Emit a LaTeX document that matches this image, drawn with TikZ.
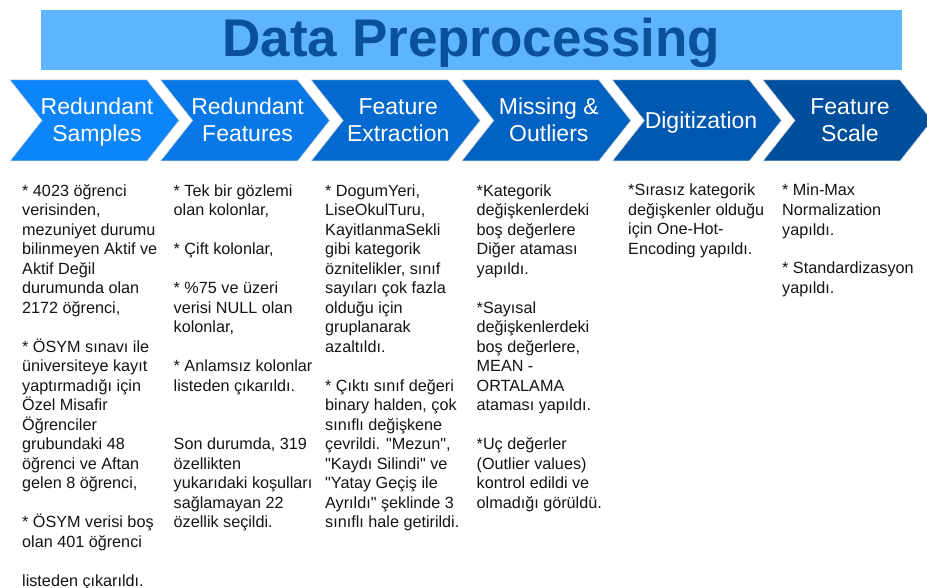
\documentclass[tikz,border=0pt]{standalone}
\usepackage{fontspec}
\setmainfont{Liberation Sans}[Ligatures=TeXOff]
\definecolor{band}{RGB}{95,180,255}
\definecolor{titleblue}{RGB}{10,80,155}
\definecolor{bodytext}{RGB}{20,20,20}
\definecolor{chA}{RGB}{12,132,250}
\definecolor{chB}{RGB}{8,120,230}
\definecolor{chC}{RGB}{4,106,208}
\definecolor{chD}{RGB}{2,98,194}
\definecolor{chE}{RGB}{0,88,176}
\definecolor{chF}{RGB}{0,78,156}
\tikzset{
  chevron/.style={draw=black!15, line width=0.5pt},
  steplabel/.style={text=white, align=center, inner sep=0pt, anchor=base,
    font=\fontsize{23}{27.4}\selectfont},
  colnote/.style={text=bodytext, align=left, inner sep=0pt, anchor=base west,
    font=\fontsize{16.2}{19.5}\selectfont},
  titletext/.style={text=titleblue, inner sep=0pt, anchor=base,
    font=\fontsize{53}{60}\selectfont\bfseries}
}
\begin{document}
\begin{tikzpicture}[x=1pt,y=-1pt]
\useasboundingbox (0,0) rectangle (927,588);

% title banner
\fill[band] (41,10) rectangle (902,70);
\node[titletext] (title) at (471.5,57) {Data Preprocessing};

% process chevrons
\foreach \i/\col in {0/chA,1/chB,2/chC,3/chD,4/chE,5/chF}{
  \pgfmathsetmacro{\xo}{10+150.6*\i}
  \filldraw[chevron, fill=\col] (\xo,80) -- ++(137,0) -- ++(32,40.5)
    -- ++(-32,40.5) -- ++(-137,0) -- ++(32,-40.5) -- cycle;
}
% labels: a multi-line node sits on the baseline of its last line
\node[steplabel] (s1) at (97,141.7)    {Redundant\\Samples};
\node[steplabel] (s2) at (247.6,141.7) {Redundant\\Features};
\node[steplabel] (s3) at (398.2,141.7) {Feature\\Extraction};
\node[steplabel] (s4) at (548.8,141.7) {Missing \&\\Outliers};
\node[steplabel] (s5) at (701,128.2)   {Digitization};
\node[steplabel] (s6) at (850,141.7)   {Feature\\Scale};

% notes under each step (placed by the baseline of the last line;
% first baselines are all at y = 196, lines 19.5 apart)
\node[colnote] (n1) at (22,586) {%
* 4023 öğrenci\\ verisinden,\\ mezuniyet durumu\\ bilinmeyen Aktif ve\\
Aktif Değil\\ durumunda olan\\ 2172 öğrenci,\\[19.5pt]
* ÖSYM sınavı ile\\ üniversiteye kayıt\\ yaptırmadığı için\\ Özel Misafir\\
Öğrenciler\\ grubundaki 48\\ öğrenci ve Aftan\\ gelen 8 öğrenci,\\[19.5pt]
* ÖSYM verisi boş\\ olan 401 öğrenci\\[19.5pt]
listeden çıkarıldı.};

\node[colnote] (n2) at (173.5,527.5) {%
* Tek bir gözlemi\\ olan kolonlar,\\[19.5pt]
* Çift kolonlar,\\[19.5pt]
* \%75 ve üzeri\\ verisi NULL olan\\ kolonlar,\\[19.5pt]
* Anlamsız kolonlar\\ listeden çıkarıldı.\\[39pt]
Son durumda, 319\\ özellikten\\ yukarıdaki koşulları\\ sağlamayan 22\\
özellik seçildi.};

\node[colnote] (n3) at (325,527.5) {%
* DogumYeri,\\ LiseOkulTuru,\\ KayitlanmaSekli\\ gibi kategorik\\
öznitelikler, sınıf\\ sayıları çok fazla\\ olduğu için\\ gruplanarak\\
azaltıldı.\\[19.5pt]
* Çıktı sınıf değeri\\ binary halden, çok\\ sınıflı değişkene\\
çevrildi. "Mezun",\\ "Kaydı Silindi" ve\\ "Yatay Geçiş ile\\
Ayrıldı" şeklinde 3\\ sınıflı hale getirildi.};

\node[colnote] (n4) at (476.5,508) {%
*Kategorik\\ değişkenlerdeki\\ boş değerlere\\ Diğer ataması\\ yapıldı.\\[19.5pt]
*Sayısal\\ değişkenlerdeki\\ boş değerlere,\\ MEAN -\\ ORTALAMA\\
ataması yapıldı.\\[19.5pt]
*Uç değerler\\ (Outlier values)\\ kontrol edildi ve\\ olmadığı görüldü.};

\node[colnote] (n5) at (628,254.5) {%
*Sırasız kategorik\\ değişkenler olduğu\\ için One-Hot-\\ Encoding yapıldı.};

\node[colnote] (n6) at (782,293.5) {%
* Min-Max\\ Normalization\\ yapıldı.\\[19.5pt]
* Standardizasyon\\ yapıldı.};
\end{tikzpicture}
\end{document}
